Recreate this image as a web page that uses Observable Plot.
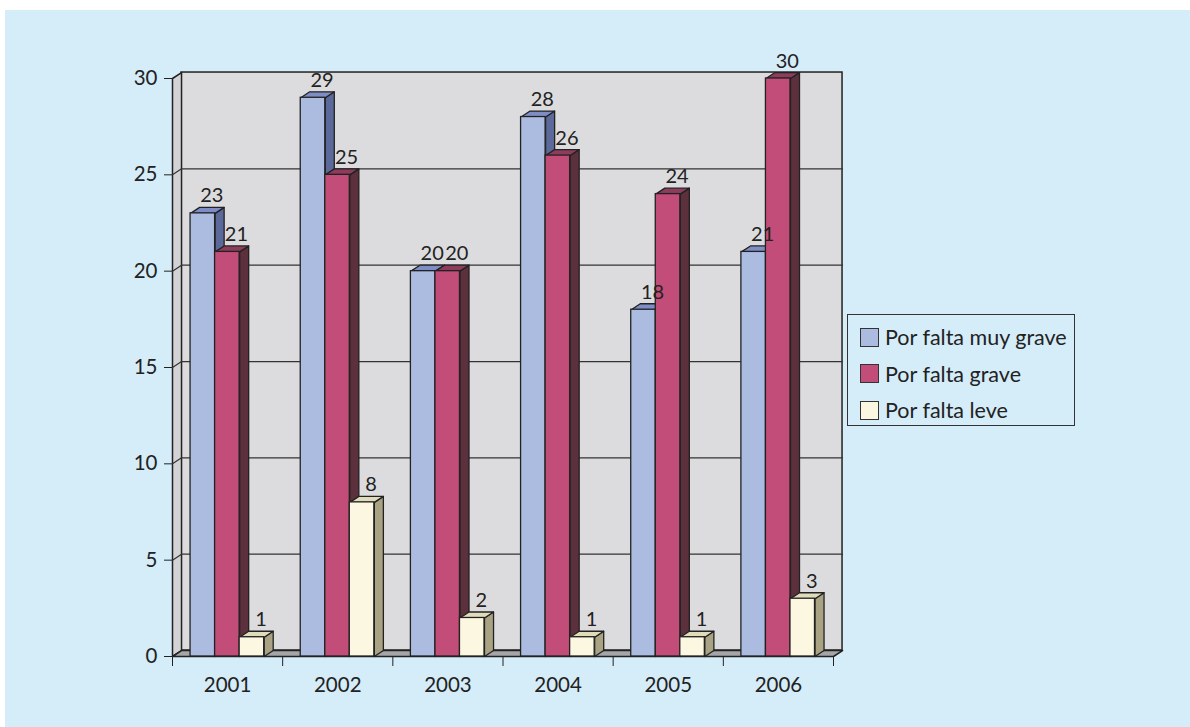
<!DOCTYPE html>
<html>
<head>
<meta charset="utf-8">
<script src="https://cdn.jsdelivr.net/npm/d3@7"></script>
<script src="https://cdn.jsdelivr.net/npm/@observablehq/plot@0.6"></script>
<style>
  html, body { margin: 0; padding: 0; background: #ffffff; }
  #page { position: relative; width: 1190px; height: 727px; overflow: hidden; font-family: Lato, "DejaVu Sans", sans-serif; }
  #panel { position: absolute; left: 5px; top: 10px; width: 1185px; height: 717px; background: #d5ecf9; }
  #chart { position: absolute; left: 0; top: 0; }
  #legend { position: absolute; left: 847px; top: 314px; width: 226px; height: 110px; border: 1.5px solid #333; box-sizing: content-box; }
  .item { position: absolute; left: 12px; height: 22px; display: flex; align-items: center; font-size: 21.5px; color: #222; white-space: nowrap; }
  .sw { width: 17px; height: 17px; border: 1.5px solid #333; margin-right: 6px; flex: none; }
</style>
</head>
<body>
<div id="page">
  <div id="panel"></div>
  <div id="chart"></div>
  <div id="legend"></div>
</div>
<script>
// ---- data ----
const years = ["2001", "2002", "2003", "2004", "2005", "2006"];
const muyGrave = [23, 29, 20, 28, 18, 21];
const grave = [21, 25, 20, 26, 24, 30];
const leve = [1, 8, 2, 1, 1, 3];
const seriesNames = ["Por falta muy grave", "Por falta grave", "Por falta leve"];
const yTicks = [0, 5, 10, 15, 20, 25, 30];

// ---- styling ----
const palette = [
  {front: "#abbce0", side: "#5b6a9b", top: "#7e8dc5"},
  {front: "#c24d78", side: "#5c303c", top: "#8e3c5c"},
  {front: "#fcf7e0", side: "#a9a383", top: "#e0dcba"}
];
const DX = 0.082;   // 3D depth offset in category units
const DY = 0.31;    // 3D depth offset in value units
const GROUP_START = 0.164;
const BAR_W = 0.2227;
const OUT = "#222";

const nCat = years.length;
const yMax = yTicks[yTicks.length - 1];
const seriesValues = [muyGrave, grave, leve];

const bars = [];
seriesValues.forEach((vals, s) => vals.forEach((v, i) => {
  const x1 = i + GROUP_START + s * BAR_W;
  bars.push({s, i, v, x1, x2: x1 + BAR_W});
}));

const poly = (pts, k, fill) => pts.map(([x, y]) => ({k, x, y, fill}));
const sides = bars.flatMap((b, k) => poly(
  [[b.x2, 0], [b.x2 + DX, DY], [b.x2 + DX, b.v + DY], [b.x2, b.v], [b.x2, 0]], k, palette[b.s].side));
const tops = bars.flatMap((b, k) => poly(
  [[b.x1, b.v], [b.x2, b.v], [b.x2 + DX, b.v + DY], [b.x1 + DX, b.v + DY], [b.x1, b.v]], k, palette[b.s].top));

const leftWall = poly([[0, 0], [DX, DY], [DX, yMax + DY], [0, yMax], [0, 0]], 0, "#d3d3d5");
const floor = poly([[0, 0], [nCat, 0], [nCat + DX, DY], [DX, DY], [0, 0]], 0, "#a6a6a8");
const grid = yTicks.filter(t => t > 0 && t < yMax).flatMap(t =>
  [[0, t], [DX, t + DY], [nCat + DX, t + DY]].map(([x, y]) => ({t, x, y})));

const chart = Plot.plot({
  width: 1190,
  height: 727,
  marginLeft: 172,
  marginRight: 357,
  marginTop: 78,
  marginBottom: 71,
  style: {background: "transparent", fontFamily: "Lato, 'DejaVu Sans', sans-serif", fontSize: "20px", color: "#222"},
  x: {type: "linear", domain: [0, nCat]},
  y: {type: "linear", domain: [0, yMax]},
  color: {type: "identity"},
  marks: [
    // back wall
    Plot.rect([{x1: DX, x2: nCat + DX, y1: DY, y2: yMax + DY}], {x1: "x1", x2: "x2", y1: "y1", y2: "y2", fill: "#dcdcde", stroke: OUT, strokeWidth: 1.5}),
    // left wall & floor
    Plot.line(leftWall, {x: "x", y: "y", z: "k", fill: "fill", stroke: OUT, strokeWidth: 1.5, curve: "linear"}),
    Plot.line(floor, {x: "x", y: "y", z: "k", fill: "fill", stroke: OUT, strokeWidth: 1.5, curve: "linear"}),
    // grid lines
    Plot.line(grid, {x: "x", y: "y", z: "t", stroke: "#333", strokeWidth: 1.2, curve: "linear"}),
    // axes
    Plot.axisY({ticks: yTicks, tickSize: 8, tickPadding: 7, tickFormat: d => String(d), fontSize: 20.5}),
    Plot.axisX({ticks: d3.range(0, nCat + 1), tickSize: 10, tickFormat: () => "", fontSize: 20}),
    Plot.axisX({ticks: d3.range(nCat).map(i => i + 0.5), tickSize: 0, tickPadding: 21, tickFormat: d => years[Math.floor(d)], fontSize: 20.5}),
    // bars: sides, tops, fronts
    Plot.line(sides, {x: "x", y: "y", z: "k", fill: "fill", stroke: OUT, strokeWidth: 1.3, strokeLinejoin: "round", curve: "linear"}),
    Plot.line(tops, {x: "x", y: "y", z: "k", fill: "fill", stroke: OUT, strokeWidth: 1.3, strokeLinejoin: "round", curve: "linear"}),
    Plot.rect(bars, {x1: "x1", x2: "x2", y1: d => 0, y2: "v", fill: d => palette[d.s].front, stroke: OUT, strokeWidth: 1.3}),
    // value labels
    Plot.text(bars, {x: d => (d.x1 + d.x2) / 2 + DX, y: d => d.v + DY, text: d => String(d.v), dy: -5, lineAnchor: "bottom", fontSize: 20, fill: "#222"})
  ]
});
document.getElementById("chart").appendChild(chart);

// legend
const legend = document.getElementById("legend");
seriesNames.forEach((name, s) => {
  const item = document.createElement("div");
  item.className = "item";
  item.style.top = (11 + s * 36.5) + "px";
  const sw = document.createElement("span");
  sw.className = "sw";
  sw.style.background = palette[s].front;
  const label = document.createElement("span");
  label.textContent = name;
  item.appendChild(sw);
  item.appendChild(label);
  legend.appendChild(item);
});
</script>
</body>
</html>
